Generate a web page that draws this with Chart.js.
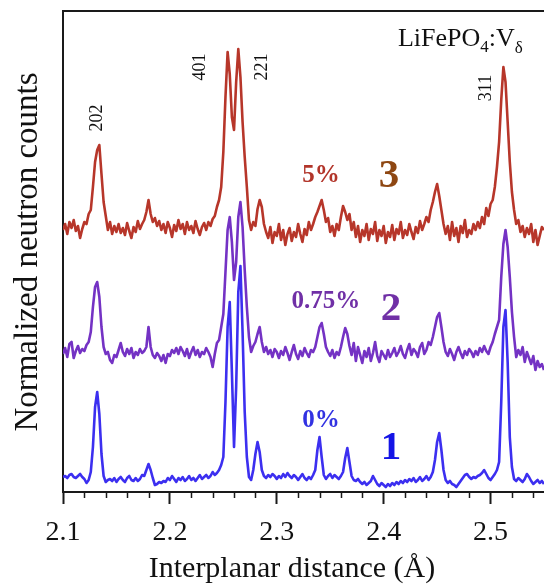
<!DOCTYPE html>
<html>
<head>
<meta charset="utf-8">
<script src="https://cdn.jsdelivr.net/npm/chart.js@4"></script>
<style>
  html, body { margin: 0; padding: 0; background: #fff; }
  #wrap { width: 544px; height: 584px; }
</style>
</head>
<body>
<div id="wrap"><canvas id="chart" width="544" height="584"></canvas></div>
<script>
// interplanar distance grid (Å)
const dSpacing = [
  2.100,2.102,2.104,2.106,2.108,2.110,2.112,2.114,2.116,2.118,
  2.120,2.122,2.124,2.126,2.128,2.130,2.132,2.134,2.136,2.138,
  2.140,2.142,2.144,2.146,2.148,2.150,2.152,2.154,2.156,2.158,
  2.160,2.162,2.164,2.166,2.168,2.170,2.172,2.174,2.176,2.178,
  2.180,2.182,2.184,2.186,2.188,2.190,2.192,2.194,2.196,2.198,
  2.200,2.202,2.204,2.206,2.208,2.210,2.212,2.214,2.216,2.218,
  2.220,2.222,2.224,2.226,2.228,2.230,2.232,2.234,2.236,2.238,
  2.240,2.242,2.244,2.246,2.248,2.250,2.252,2.254,2.256,2.258,
  2.260,2.262,2.264,2.266,2.268,2.270,2.272,2.274,2.276,2.278,
  2.280,2.282,2.284,2.286,2.288,2.290,2.292,2.294,2.296,2.298,
  2.300,2.302,2.304,2.306,2.308,2.310,2.312,2.314,2.316,2.318,
  2.320,2.322,2.324,2.326,2.328,2.330,2.332,2.334,2.336,2.338,
  2.340,2.342,2.344,2.346,2.348,2.350,2.352,2.354,2.356,2.358,
  2.360,2.362,2.364,2.366,2.368,2.370,2.372,2.374,2.376,2.378,
  2.380,2.382,2.384,2.386,2.388,2.390,2.392,2.394,2.396,2.398,
  2.400,2.402,2.404,2.406,2.408,2.410,2.412,2.414,2.416,2.418,
  2.420,2.422,2.424,2.426,2.428,2.430,2.432,2.434,2.436,2.438,
  2.440,2.442,2.444,2.446,2.448,2.450,2.452,2.454,2.456,2.458,
  2.460,2.462,2.464,2.466,2.468,2.470,2.472,2.474,2.476,2.478,
  2.480,2.482,2.484,2.486,2.488,2.490,2.492,2.494,2.496,2.498,
  2.500,2.502,2.504,2.506,2.508,2.510,2.512,2.514,2.516,2.518,
  2.520,2.522,2.524,2.526,2.528,2.530,2.532,2.534,2.536,2.538,
  2.540,2.542,2.544,2.546,2.548,2.550
];

// 1: 0 % V (already shifted as plotted)
const counts0 = [
  15,16,14,17,18,15,14,16,18,15,
  13,9,12,20,45,85,100,78,38,16,
  10,12,13,11,14,10,13,15,12,10,
  14,16,12,11,14,11,13,17,16,22,
  28,22,14,7,8,10,9,11,10,14,
  12,16,13,10,14,12,15,11,13,16,
  12,14,11,14,17,13,15,17,14,16,
  20,17,19,22,27,35,90,165,190,120,
  45,105,200,226,160,80,35,15,12,22,
  38,50,40,22,16,14,17,15,18,16,
  13,16,14,18,15,19,16,14,17,15,
  12,15,18,14,12,15,13,17,22,42,
  55,35,17,13,16,18,14,17,15,13,
  16,20,34,44,30,16,12,11,13,10,
  8,10,7,9,11,16,12,8,6,9,
  7,5,8,6,9,7,10,8,11,9,
  12,10,13,11,14,10,12,15,11,13,
  16,12,15,20,32,50,59,42,22,12,
  9,11,8,7,5,8,11,14,17,18,
  15,13,15,14,16,17,19,22,18,14,
  12,15,18,22,30,90,165,182,130,55,
  25,13,11,14,12,10,13,18,15,11,
  8,10,12,9,11,8
];

// 2: 0.75 % V
const counts075 = [
  138,144,135,148,150,134,141,146,139,143,
  141,147,150,160,185,205,210,195,165,145,
  138,140,132,129,137,135,142,149,140,136,
  143,138,144,134,140,137,143,139,141,145,
  165,145,137,134,139,136,131,137,129,138,
  136,142,139,144,138,145,141,136,143,134,
  140,145,137,142,135,140,138,144,140,135,
  125,138,149,152,165,178,220,262,275,250,
  212,230,275,290,265,222,185,155,140,146,
  150,158,165,150,140,145,138,142,135,143,
  140,134,141,137,145,139,132,140,147,138,
  133,141,136,144,139,135,142,140,145,155,
  165,169,158,145,140,136,142,134,140,137,
  145,155,164,158,146,137,149,131,145,137,
  129,141,135,144,131,139,150,136,130,141,
  137,133,142,135,139,144,136,140,146,138,
  134,142,148,137,143,140,135,145,149,138,
  142,150,147,155,165,175,179,165,150,140,
  136,143,138,132,140,145,139,134,141,137,
  143,140,135,141,137,144,140,146,141,138,
  145,150,158,165,172,215,248,262,245,215,
  180,155,135,142,137,145,130,140,134,128,
  136,122,131,125,128,122
];

// 3: 5 % V
const counts5 = [
  262,268,258,270,264,272,261,266,254,263,
  270,268,278,282,305,330,342,347,318,290,
  276,262,270,258,266,260,268,259,264,257,
  269,261,254,265,260,271,263,268,272,280,
  292,278,270,274,266,271,262,268,259,270,
  264,255,267,261,272,263,268,258,270,262,
  266,259,271,263,257,265,269,262,270,266,
  273,276,285,292,305,340,395,440,418,375,
  362,410,443,415,370,335,305,272,262,270,
  266,283,292,285,268,260,254,265,249,260,
  256,268,252,262,247,258,264,251,260,255,
  268,258,250,263,257,270,262,268,275,280,
  286,292,282,270,274,260,266,256,268,262,
  275,286,280,272,278,262,270,255,266,250,
  262,256,268,252,263,258,270,251,262,256,
  266,249,260,255,267,252,263,258,270,254,
  262,257,268,260,253,265,259,271,262,268,
  275,270,282,290,300,308,296,282,268,258,
  266,252,270,256,264,250,266,259,272,255,
  262,258,268,262,270,264,275,268,284,276,
  288,292,305,325,350,392,425,410,370,330,
  300,282,268,272,260,266,255,264,258,268,
  250,262,247,256,265,262
];

const xTicks = [2.1, 2.2, 2.3, 2.4, 2.5];
const sampleNames = ["0%", "0.75%", "5%"];
const sampleNumbers = ["1", "2", "3"];
const hklLabels = ["202", "401", "221", "311"];

const serif = '"Liberation Serif", "Times New Roman", serif';
const lineColors = ["#3c2ff0", "#7432c4", "#b7362a"];
const nameColors = ["#3232e2", "#7030a6", "#b2352a"];
const numberColors = ["#1414e6", "#7030a6", "#8e4712"];

// text anchors in data units (d, counts)
const namePos = [[2.3414, 71], [2.346, 190], [2.3414, 316]];
const numberPos = [[2.4069, 44], [2.4069, 183], [2.405, 316]];
const hklPos = [[2.1318, 374], [2.2282, 425], [2.2862, 425], [2.4957, 404]];

function toPoints(ys) {
  return dSpacing.map((d, i) => ({ x: d, y: ys[i] }));
}

const decorations = {
  id: "decorations",
  afterDraw(chart) {
    const { ctx, chartArea: a, scales: { x, y } } = chart;
    ctx.save();

    // top frame line
    ctx.strokeStyle = "#1a1a1a";
    ctx.lineWidth = 2;
    ctx.beginPath();
    ctx.moveTo(a.left, a.top);
    ctx.lineTo(a.right, a.top);
    ctx.stroke();

    // minor ticks every 0.02
    ctx.lineWidth = 1.5;
    for (let k = 1; k <= 22; k++) {
      if (k % 5 === 0) continue;
      const px = Math.round(x.getPixelForValue(2.1 + k * 0.02)) + 0.5;
      ctx.beginPath();
      ctx.moveTo(px, a.bottom);
      ctx.lineTo(px, a.bottom + 6);
      ctx.stroke();
    }

    // sample labels
    ctx.textAlign = "center";
    ctx.textBaseline = "middle";
    sampleNames.forEach((t, i) => {
      ctx.font = "bold 25px " + serif;
      ctx.fillStyle = nameColors[i];
      ctx.fillText(t, x.getPixelForValue(namePos[i][0]), y.getPixelForValue(namePos[i][1]));
      ctx.font = "bold 41px " + serif;
      ctx.fillStyle = numberColors[i];
      ctx.fillText(sampleNumbers[i], x.getPixelForValue(numberPos[i][0]), y.getPixelForValue(numberPos[i][1]));
    });

    // reflection indices, rotated
    ctx.font = "18px " + serif;
    ctx.fillStyle = "#111";
    hklLabels.forEach((t, i) => {
      ctx.save();
      ctx.translate(x.getPixelForValue(hklPos[i][0]), y.getPixelForValue(hklPos[i][1]));
      ctx.rotate(-Math.PI / 2);
      ctx.fillText(t, 0, 0);
      ctx.restore();
    });

    // compound name LiFePO4:Vδ
    ctx.textAlign = "left";
    ctx.textBaseline = "alphabetic";
    ctx.fillStyle = "#111";
    let cx = x.getPixelForValue(2.4134);
    const by = y.getPixelForValue(446);
    const parts = [["LiFePO", 26, 0], ["4", 17, 6], [":V", 26, 0], ["δ", 17, 7]];
    parts.forEach(([t, size, dy]) => {
      ctx.font = size + "px " + serif;
      ctx.fillText(t, cx, by + dy);
      cx += ctx.measureText(t).width;
    });

    // axis titles
    ctx.textAlign = "center";
    ctx.font = "30px " + serif;
    ctx.fillText("Interplanar distance (Å)", 292, 577);
    ctx.save();
    ctx.translate(37, 252);
    ctx.rotate(-Math.PI / 2);
    ctx.font = "33px " + serif;
    ctx.fillText("Normalized neutron counts", 0, 0);
    ctx.restore();

    ctx.restore();
  }
};

new Chart(document.getElementById("chart"), {
  type: "line",
  data: {
    datasets: [
      { label: sampleNames[0], data: toPoints(counts0), borderColor: lineColors[0] },
      { label: sampleNames[1], data: toPoints(counts075), borderColor: lineColors[1] },
      { label: sampleNames[2], data: toPoints(counts5), borderColor: lineColors[2] }
    ]
  },
  options: {
    responsive: false,
    animation: false,
    layout: { padding: { top: 11, right: 0, bottom: 0, left: 0 } },
    elements: {
      point: { radius: 0 },
      line: { borderWidth: 2.6, tension: 0, borderJoinStyle: "round" }
    },
    plugins: {
      legend: { display: false },
      tooltip: { enabled: false }
    },
    scales: {
      x: {
        type: "linear",
        min: 2.1,
        max: 2.55,
        afterFit(s) { s.height = 92; },
        afterBuildTicks(s) { s.ticks = xTicks.map(v => ({ value: v })); },
        border: { display: true, color: "#1a1a1a", width: 2 },
        grid: { drawOnChartArea: false, drawTicks: true, tickLength: 12, tickWidth: 2, tickColor: "#1a1a1a" },
        ticks: {
          font: { family: serif, size: 28 },
          color: "#111",
          padding: 12,
          maxRotation: 0,
          autoSkip: false,
          callback: v => Number(v).toFixed(1)
        }
      },
      y: {
        min: 0,
        max: 481,
        afterFit(s) { s.width = 63; },
        ticks: { display: false },
        grid: { display: false, drawTicks: false },
        border: { display: true, color: "#1a1a1a", width: 2 }
      }
    }
  },
  plugins: [decorations]
});
</script>
</body>
</html>
